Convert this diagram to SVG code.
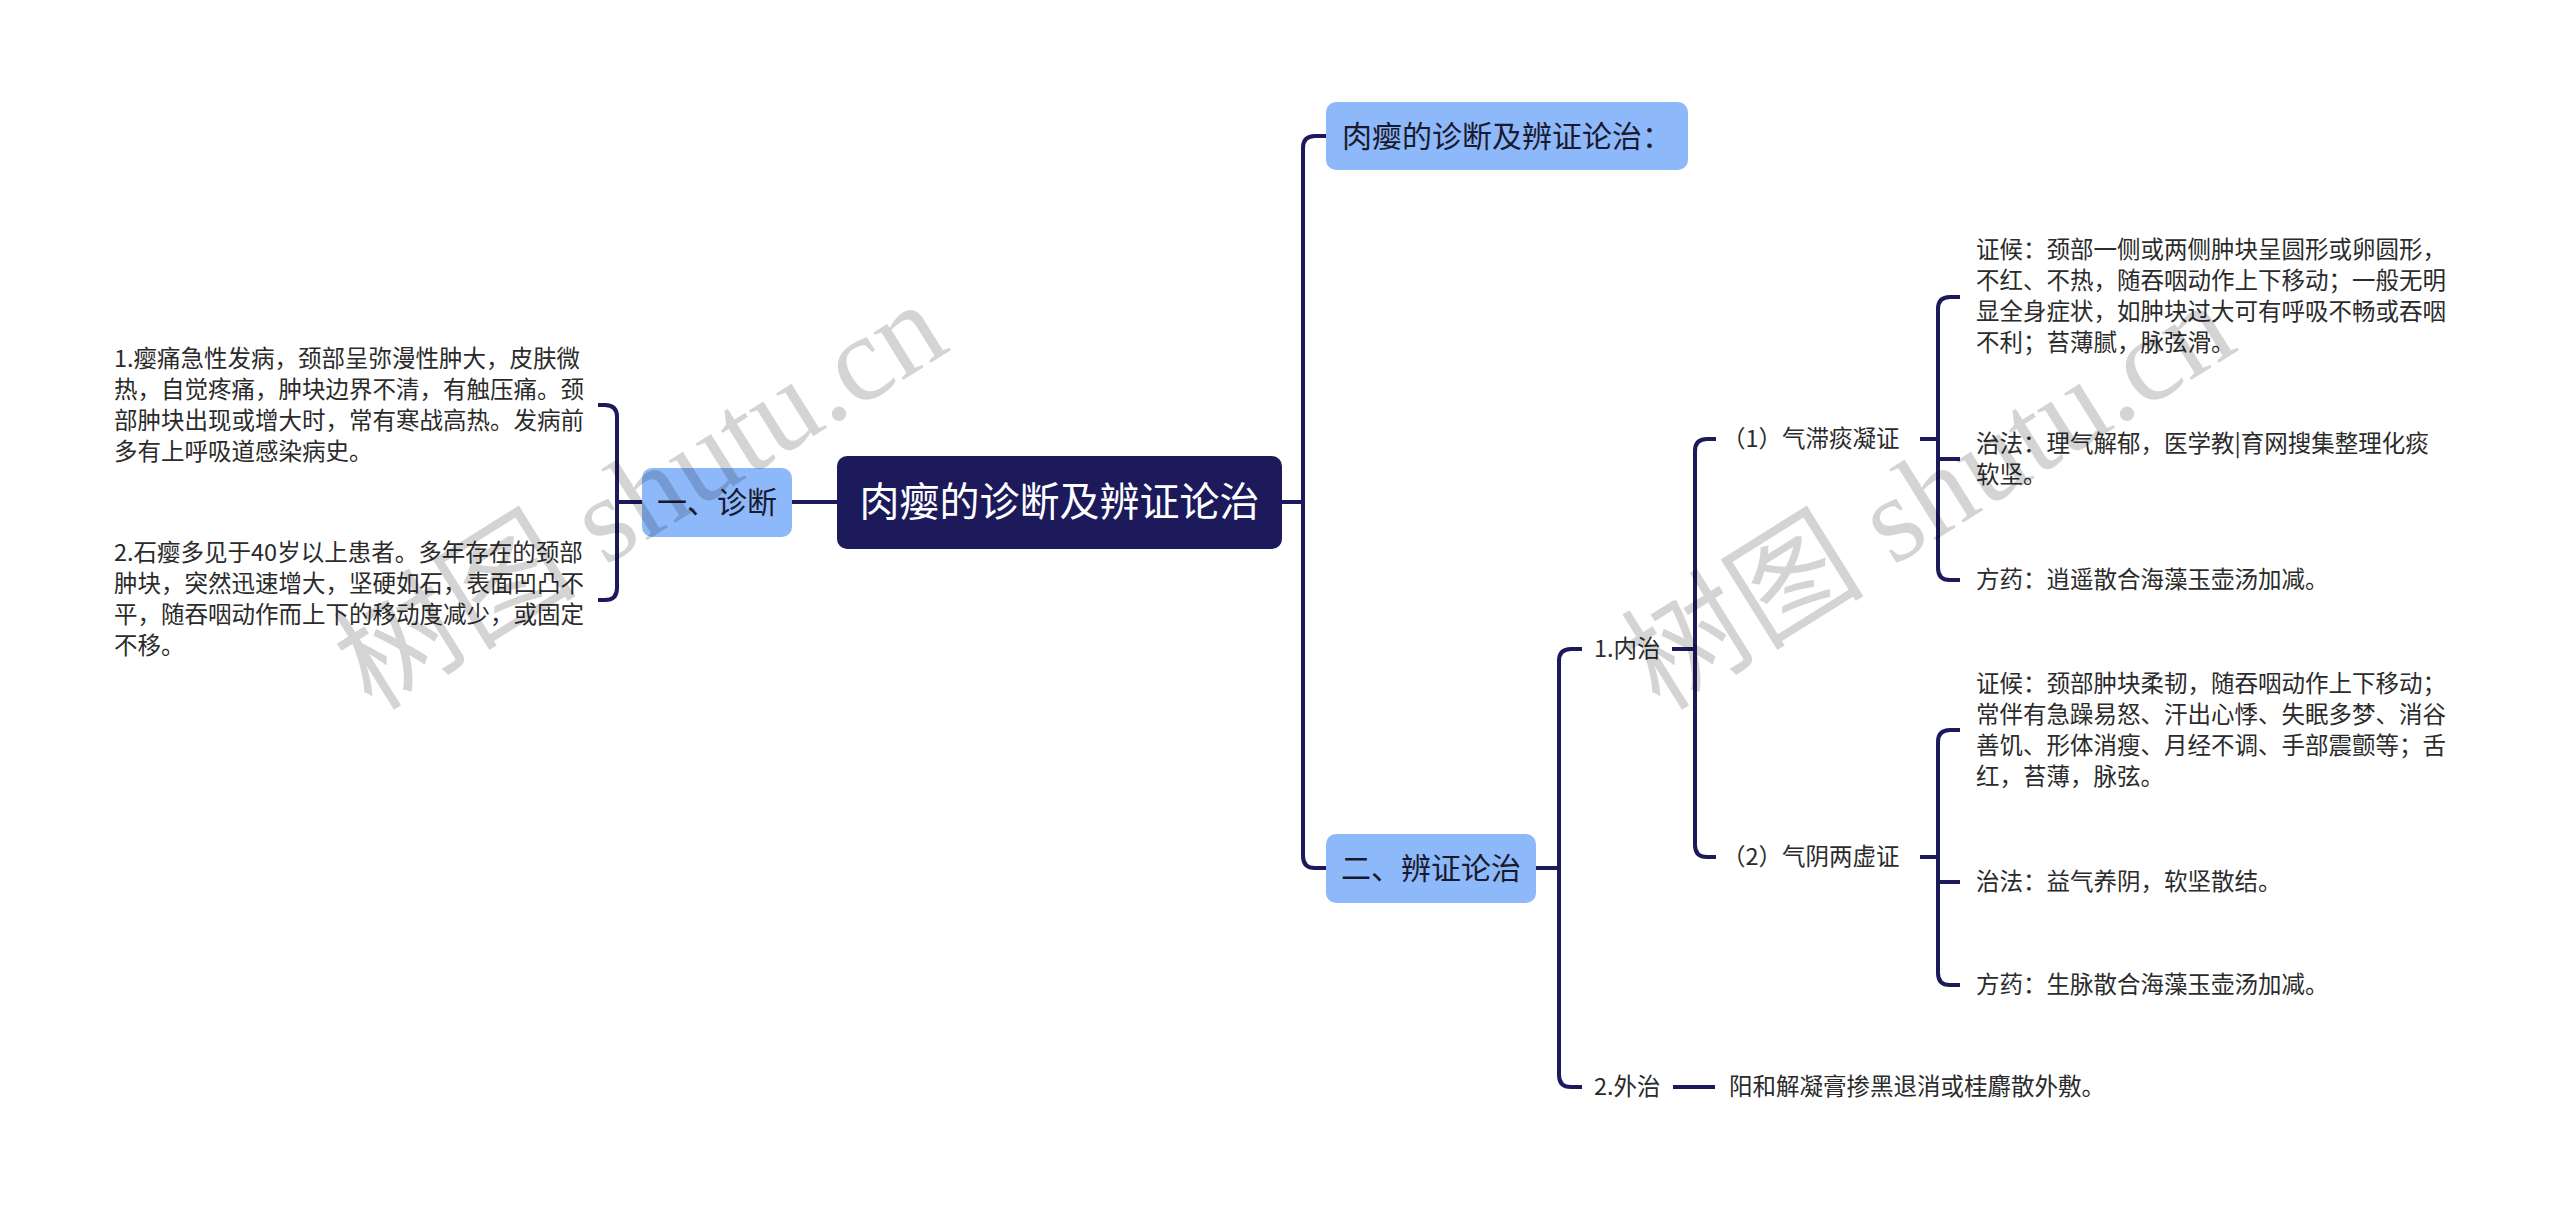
<svg xmlns="http://www.w3.org/2000/svg" width="2560" height="1218" viewBox="0 0 2560 1218">
<style>
.ln{fill:none;stroke:#1c1a5b;stroke-width:4;stroke-linecap:butt}
.t{font-family:"Noto Sans CJK SC","Noto Sans",sans-serif;font-size:23.5px;fill:#2b2b2b}
.sub{fill:#8db8fa}
.st{font-family:"Noto Sans CJK SC","Noto Sans",sans-serif;font-size:30px;fill:#1a1a2e}
.wm{font-family:"Liberation Serif","Noto Sans CJK SC",serif;font-size:122px;fill:#000;fill-opacity:0.17}
</style>
<rect width="2560" height="1218" fill="#ffffff"/>
<g id="connectors">
<path class="ln" d="M792,502 H837"/>
<path class="ln" d="M642,502 H617"/>
<path class="ln" d="M598,405 H605 Q617,405 617,417 V588 Q617,600 605,600 H598"/>
<path class="ln" d="M1282,502 H1303"/>
<path class="ln" d="M1326,136 H1315 Q1303,136 1303,148 V856 Q1303,868 1315,868 H1326"/>
<path class="ln" d="M1536,868 H1559"/>
<path class="ln" d="M1582,649 H1571 Q1559,649 1559,661 V1075 Q1559,1087 1571,1087 H1582"/>
<path class="ln" d="M1672,649 H1695"/>
<path class="ln" d="M1716,439 H1707 Q1695,439 1695,451 V845 Q1695,857 1707,857 H1716"/>
<path class="ln" d="M1920,439 H1938"/>
<path class="ln" d="M1960,297 H1950 Q1938,297 1938,309 V568 Q1938,580 1950,580 H1960"/>
<path class="ln" d="M1938,459 H1960"/>
<path class="ln" d="M1920,857 H1938"/>
<path class="ln" d="M1960,730 H1950 Q1938,730 1938,742 V973 Q1938,985 1950,985 H1960"/>
<path class="ln" d="M1938,882 H1960"/>
<path class="ln" d="M1673,1087 H1715"/>
</g>
<g id="root">
<rect x="837" y="456" width="445" height="93" rx="10" fill="#1c1a5b"/>
<text x="1059.5" y="516" text-anchor="middle" font-family="Noto Sans CJK SC,sans-serif" font-size="40" fill="#ffffff">肉瘿的诊断及辨证论治</text>
</g>
<g id="n-zhenduan">
<rect class="sub" x="642" y="468" width="150" height="69" rx="10"/>
<text class="st" x="717" y="513" text-anchor="middle">一、诊断</text>
</g>
<g id="n-zd1">
<text class="t" x="114"><tspan x="114" y="367">1.瘿痛急性发病，颈部呈弥漫性肿大，皮肤微</tspan><tspan x="114" y="398">热，自觉疼痛，肿块边界不清，有触压痛。颈</tspan><tspan x="114" y="429">部肿块出现或增大时，常有寒战高热。发病前</tspan><tspan x="114" y="460">多有上呼吸道感染病史。</tspan></text>
</g>
<g id="n-zd2">
<text class="t" x="114"><tspan x="114" y="561">2.石瘿多见于40岁以上患者。多年存在的颈部</tspan><tspan x="114" y="592">肿块，突然迅速增大，坚硬如石，表面凹凸不</tspan><tspan x="114" y="623">平，随吞咽动作而上下的移动度减少，或固定</tspan><tspan x="114" y="654">不移。</tspan></text>
</g>
<g id="n-title">
<rect class="sub" x="1326" y="102" width="362" height="68" rx="10"/>
<text class="st" x="1342" y="147">肉瘿的诊断及辨证论治：</text>
</g>
<g id="n-bianzheng">
<rect class="sub" x="1326" y="834" width="210" height="69" rx="10"/>
<text class="st" x="1431" y="879" text-anchor="middle">二、辨证论治</text>
</g>
<g id="n-neizhi"><text class="t" x="1594" y="657">1.内治</text></g>
<g id="n-waizhi"><text class="t" x="1594" y="1095">2.外治</text></g>
<g id="n-waizhi-1"><text class="t" x="1729" y="1095">阳和解凝膏掺黑退消或桂麝散外敷。</text></g>
<g id="n-q1"><text class="t" x="1722" y="447" font-size="24">（1）气滞痰凝证</text></g>
<g id="n-q2"><text class="t" x="1722" y="865" font-size="24">（2）气阴两虚证</text></g>
<g id="n-q1-a">
<text class="t"><tspan x="1976" y="258">证候：颈部一侧或两侧肿块呈圆形或卵圆形，</tspan><tspan x="1976" y="289">不红、不热，随吞咽动作上下移动；一般无明</tspan><tspan x="1976" y="320">显全身症状，如肿块过大可有呼吸不畅或吞咽</tspan><tspan x="1976" y="351">不利；苔薄腻，脉弦滑。</tspan></text>
</g>
<g id="n-q1-b">
<text class="t"><tspan x="1976" y="452">治法：理气解郁，医学教|育网搜集整理化痰</tspan><tspan x="1976" y="483">软坚。</tspan></text>
</g>
<g id="n-q1-c"><text class="t" x="1976" y="588">方药：逍遥散合海藻玉壶汤加减。</text></g>
<g id="n-q2-a">
<text class="t"><tspan x="1976" y="692">证候：颈部肿块柔韧，随吞咽动作上下移动；</tspan><tspan x="1976" y="723">常伴有急躁易怒、汗出心悸、失眠多梦、消谷</tspan><tspan x="1976" y="754">善饥、形体消瘦、月经不调、手部震颤等；舌</tspan><tspan x="1976" y="785">红，苔薄，脉弦。</tspan></text>
</g>
<g id="n-q2-b"><text class="t" x="1976" y="890">治法：益气养阴，软坚散结。</text></g>
<g id="n-q2-c"><text class="t" x="1976" y="993">方药：生脉散合海藻玉壶汤加减。</text></g>
<g id="watermarks">
<text class="wm" transform="translate(372,712) rotate(-32)">树图 shutu.cn</text>
<text class="wm" transform="translate(1660,712) rotate(-32)">树图 shutu.cn</text>
</g>
</svg>
